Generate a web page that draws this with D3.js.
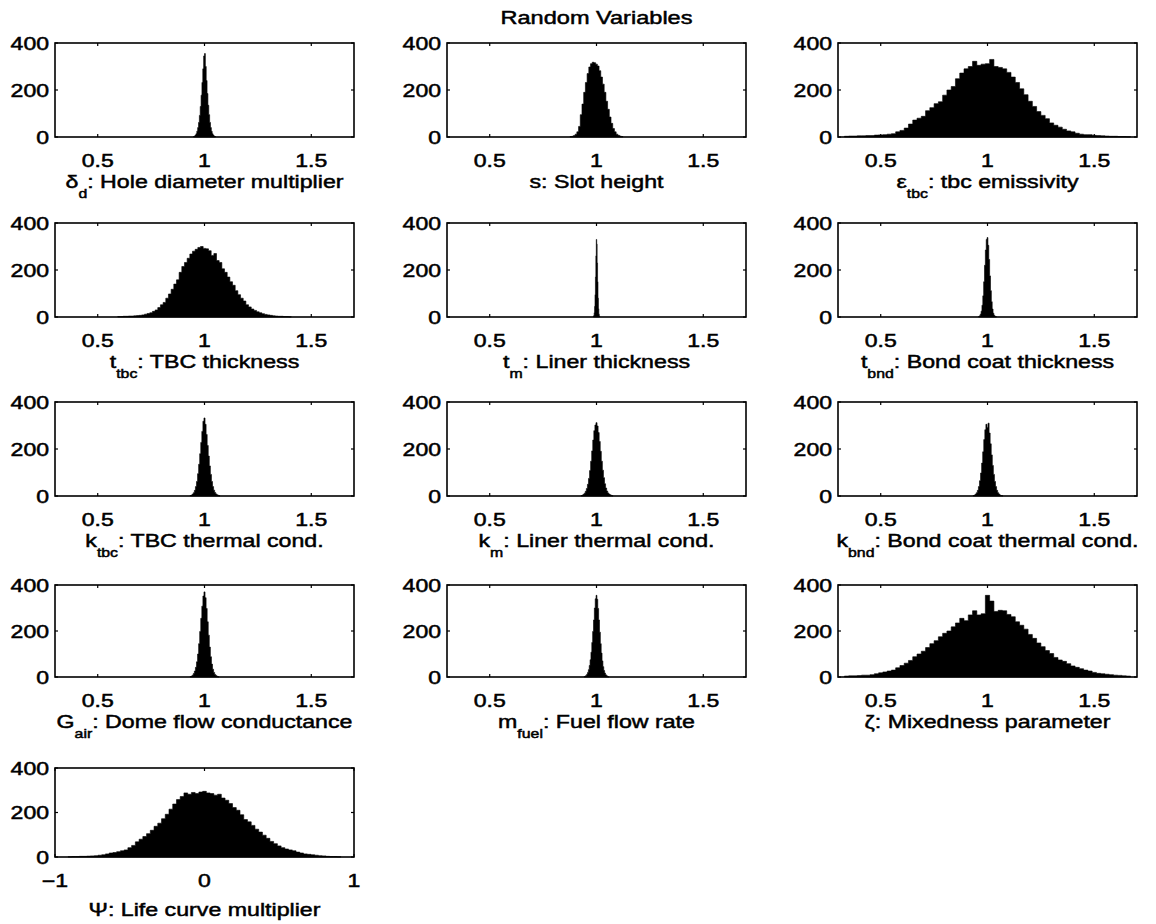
<!DOCTYPE html>
<html>
<head>
<meta charset="utf-8">
<script src="https://cdn.jsdelivr.net/npm/d3@7"></script>
<style>
  html, body { margin: 0; padding: 0; background: #fff; }
  svg { display: block; }
</style>
</head>
<body>
<svg id="fig" width="1156" height="924"></svg>
<script>
// ---- Histogram counts (first bin centre, bin width, counts per bin) ----
const holeDiameterStart = 0.950, holeDiameterStep = 0.004;
const holeDiameterCounts = [2, 4, 8, 14, 25, 40, 62, 92, 130, 178, 232, 290, 345, 355, 300, 240, 185, 135, 95, 62, 40, 24, 14, 8, 4, 2];

const slotHeightStart = 0.880, slotHeightStep = 0.008;
const slotHeightCounts = [2, 3, 6, 12, 22, 45, 95, 140, 190, 232, 270, 298, 312, 318, 316, 310, 302, 282, 255, 225, 190, 152, 118, 85, 58, 36, 22, 12, 7, 4, 2];

const emissivityStart = 0.34, emissivityStep = 0.02;
const emissivityCounts = [3, 4, 4, 5, 5, 6, 6, 8, 9, 10, 12, 14, 22, 28, 38, 55, 72, 80, 88, 112, 125, 142, 150, 178, 200, 215, 248, 272, 290, 300, 322, 305, 310, 312, 330, 300, 296, 290, 275, 255, 232, 205, 180, 152, 130, 108, 92, 78, 60, 50, 42, 33, 26, 22, 16, 12, 10, 10, 7, 6, 5, 4, 3, 3, 2, 2, 1];

const tbcThicknessStart = 0.600, tbcThicknessStep = 0.0125;
const tbcThicknessCounts = [2, 2, 3, 3, 4, 4, 5, 6, 7, 9, 12, 15, 18, 24, 30, 40, 52, 62, 80, 98, 118, 140, 158, 190, 215, 232, 250, 268, 280, 288, 296, 300, 292, 290, 282, 262, 270, 240, 232, 205, 190, 170, 150, 135, 112, 95, 80, 68, 52, 43, 34, 28, 22, 18, 14, 11, 9, 7, 5, 4, 3, 3, 2, 2, 1];

const linerThicknessStart = 0.986, linerThicknessStep = 0.002;
const linerThicknessCounts = [2, 6, 18, 45, 95, 170, 260, 330, 310, 230, 150, 80, 35, 12, 4];

const bondThicknessStart = 0.960, bondThicknessStep = 0.004;
const bondThicknessCounts = [2, 5, 12, 25, 50, 90, 150, 220, 285, 330, 338, 305, 245, 175, 112, 65, 34, 16, 7, 3, 1];

const tbcCondStart = 0.935, tbcCondStep = 0.005;
const tbcCondCounts = [2, 4, 8, 14, 24, 40, 62, 95, 135, 180, 228, 275, 318, 332, 305, 262, 215, 170, 128, 92, 62, 40, 25, 15, 9, 5, 3, 1];

const linerCondStart = 0.930, linerCondStep = 0.005;
const linerCondCounts = [2, 4, 7, 12, 20, 32, 50, 75, 108, 148, 192, 238, 278, 302, 312, 298, 270, 232, 190, 148, 110, 78, 52, 34, 21, 13, 8, 5, 3, 1];

const bondCondStart = 0.935, bondCondStep = 0.005;
const bondCondCounts = [2, 4, 8, 14, 24, 40, 65, 98, 140, 188, 240, 282, 305, 292, 310, 268, 222, 175, 130, 92, 62, 40, 24, 14, 8, 4, 2, 1];

const domeFlowStart = 0.935, domeFlowStep = 0.005;
const domeFlowCounts = [2, 4, 8, 15, 26, 42, 66, 100, 145, 198, 255, 308, 352, 370, 345, 298, 240, 182, 130, 88, 56, 34, 20, 11, 6, 3, 1];

const fuelFlowStart = 0.944, fuelFlowStep = 0.004;
const fuelFlowCounts = [2, 4, 7, 12, 20, 32, 50, 75, 108, 150, 198, 248, 300, 340, 355, 338, 298, 248, 195, 145, 104, 70, 45, 28, 17, 10, 6, 3, 1];

const mixednessStart = 0.34, mixednessStep = 0.02;
const mixednessCounts = [4, 5, 5, 6, 8, 8, 10, 14, 18, 22, 26, 30, 40, 50, 60, 72, 88, 100, 112, 128, 145, 158, 175, 190, 200, 218, 235, 255, 245, 270, 288, 270, 275, 355, 330, 285, 290, 288, 272, 262, 240, 225, 208, 185, 168, 148, 132, 115, 102, 85, 74, 68, 58, 48, 42, 36, 30, 26, 20, 16, 14, 12, 10, 8, 7, 5, 4];

const lifeCurveStart = -0.900, lifeCurveStep = 0.025;
const lifeCurveCounts = [1, 2, 2, 3, 3, 4, 5, 6, 8, 10, 14, 18, 20, 24, 28, 32, 42, 52, 68, 80, 92, 105, 120, 138, 152, 172, 192, 215, 238, 258, 272, 288, 282, 290, 285, 292, 295, 288, 285, 278, 282, 265, 255, 240, 222, 210, 190, 168, 158, 142, 125, 112, 98, 84, 70, 60, 50, 42, 36, 32, 28, 22, 18, 14, 12, 10, 8, 6, 5, 3, 2, 2, 1];

// ---- Axis ticks ----
const multiplierDomain = [0.3, 1.7];
const multiplierTicks = [0.5, 1, 1.5];
const multiplierTickLabels = ["0.5", "1", "1.5"];
const lifeDomain = [-1, 1];
const lifeTicks = [-1, 0, 1];
const lifeTickLabels = ["\u22121", "0", "1"];
const countDomain = [0, 400];
const countTicks = [0, 200, 400];
const countTickLabels = ["0", "200", "400"];

const figureTitle = "Random Variables";

// Axis labels as [symbol, subscript, description]
const axisLabels = [
  ["\u03B4", "d", ": Hole diameter multiplier"],
  ["s", "", ": Slot height"],
  ["\u03B5", "tbc", ": tbc emissivity"],
  ["t", "tbc", ": TBC thickness"],
  ["t", "m", ": Liner thickness"],
  ["t", "bnd", ": Bond coat thickness"],
  ["k", "tbc", ": TBC thermal cond."],
  ["k", "m", ": Liner thermal cond."],
  ["k", "bnd", ": Bond coat thermal cond."],
  ["G", "air", ": Dome flow conductance"],
  ["m", "fuel", ": Fuel flow rate"],
  ["\u03B6", "", ": Mixedness parameter"],
  ["\u03A8", "", ": Life curve multiplier"]
];

const panels = [
  [holeDiameterStart, holeDiameterStep, holeDiameterCounts],
  [slotHeightStart, slotHeightStep, slotHeightCounts],
  [emissivityStart, emissivityStep, emissivityCounts],
  [tbcThicknessStart, tbcThicknessStep, tbcThicknessCounts],
  [linerThicknessStart, linerThicknessStep, linerThicknessCounts],
  [bondThicknessStart, bondThicknessStep, bondThicknessCounts],
  [tbcCondStart, tbcCondStep, tbcCondCounts],
  [linerCondStart, linerCondStep, linerCondCounts],
  [bondCondStart, bondCondStep, bondCondCounts],
  [domeFlowStart, domeFlowStep, domeFlowCounts],
  [fuelFlowStart, fuelFlowStep, fuelFlowCounts],
  [mixednessStart, mixednessStep, mixednessCounts],
  [lifeCurveStart, lifeCurveStep, lifeCurveCounts]
].map(([start, step, counts], i) => ({
  start, step, counts,
  label: axisLabels[i],
  domain: i === 12 ? lifeDomain : multiplierDomain,
  ticks: i === 12 ? lifeTicks : multiplierTicks,
  tickLabels: i === 12 ? lifeTickLabels : multiplierTickLabels
}));

// ---- Layout ----
const colLeft = [55, 447, 838];
const plotW = 299;
const rowTop = [43, 223, 402, 585, 768];
const rowH = [94, 94, 94, 92, 89];
const tickLen = 3;
const FONT = "'Liberation Sans', Arial, Helvetica, sans-serif";
const TEXT_SX = 1.28;   // the type in this figure is set wide

const svg = d3.select("#fig");

function wideText(g, x, y, anchor, size, sx) {
  return g.append("text")
    .attr("transform", `translate(${x},${y}) scale(${sx},1)`)
    .attr("text-anchor", anchor)
    .attr("font-family", FONT)
    .attr("font-size", size)
    .attr("fill", "#000")
    .attr("stroke", "#000")
    .attr("stroke-width", 0.5);
}

// Figure title
wideText(svg, colLeft[1] + plotW / 2, 24, "middle", 19, 1.24).text(figureTitle);

panels.forEach((p, i) => {
  const row = Math.floor(i / 3), col = i % 3;
  const left = colLeft[col], top = rowTop[row], h = rowH[row];
  const x = d3.scaleLinear().domain(p.domain).range([left, left + plotW]);
  const y = d3.scaleLinear().domain(countDomain).range([top + h, top]);
  const g = svg.append("g");

  // histogram as one solid stepped area: each bin starts at its left edge,
  // the closing edge repeats the last count
  const steps = p.counts.map((c, k) => ({ edge: p.start + (k - 0.5) * p.step, c }));
  steps.push({ edge: p.start + (p.counts.length - 0.5) * p.step, c: p.counts[p.counts.length - 1] });
  const area = d3.area()
    .x(d => x(d.edge))
    .y0(y(0))
    .y1(d => y(d.c))
    .curve(d3.curveStepAfter);
  g.append("path")
    .datum(steps)
    .attr("d", area)
    .attr("fill", "#000")
    .attr("stroke", "#000")
    .attr("stroke-width", 0.6)
    .attr("stroke-linejoin", "miter");

  // inward ticks on all four sides
  const ticks = g.append("g").attr("stroke", "#000").attr("stroke-width", 1.2);
  p.ticks.forEach(t => {
    ticks.append("line").attr("x1", x(t)).attr("x2", x(t)).attr("y1", y(0)).attr("y2", y(0) - tickLen);
    ticks.append("line").attr("x1", x(t)).attr("x2", x(t)).attr("y1", y(400)).attr("y2", y(400) + tickLen);
  });
  countTicks.forEach(t => {
    ticks.append("line").attr("x1", left).attr("x2", left + tickLen).attr("y1", y(t)).attr("y2", y(t));
    ticks.append("line").attr("x1", left + plotW).attr("x2", left + plotW - tickLen).attr("y1", y(t)).attr("y2", y(t));
  });

  // axes box
  g.append("rect")
    .attr("x", left).attr("y", top).attr("width", plotW).attr("height", h)
    .attr("fill", "none").attr("stroke", "#000").attr("stroke-width", 1.6);

  // tick labels
  p.ticks.forEach((t, k) => {
    wideText(g, x(t), top + h + 29.5, "middle", 18, TEXT_SX).text(p.tickLabels[k]);
  });
  countTicks.forEach((t, k) => {
    wideText(g, left - 6, y(t) + 6.5, "end", 18, TEXT_SX).text(countTickLabels[k]);
  });

  // axis label with subscript
  const [sym, sub, desc] = p.label;
  const ly = top + h + (i === 12 ? 59 : 51);
  const lab = wideText(g, left + plotW / 2, ly, "middle", 19, 1.22);
  lab.append("tspan").text(sym);
  if (sub) {
    lab.append("tspan").attr("font-size", 13).attr("dy", 10).text(sub);
    lab.append("tspan").attr("dy", -10).text(desc);
  } else {
    lab.append("tspan").text(desc);
  }
});
</script>
</body>
</html>
